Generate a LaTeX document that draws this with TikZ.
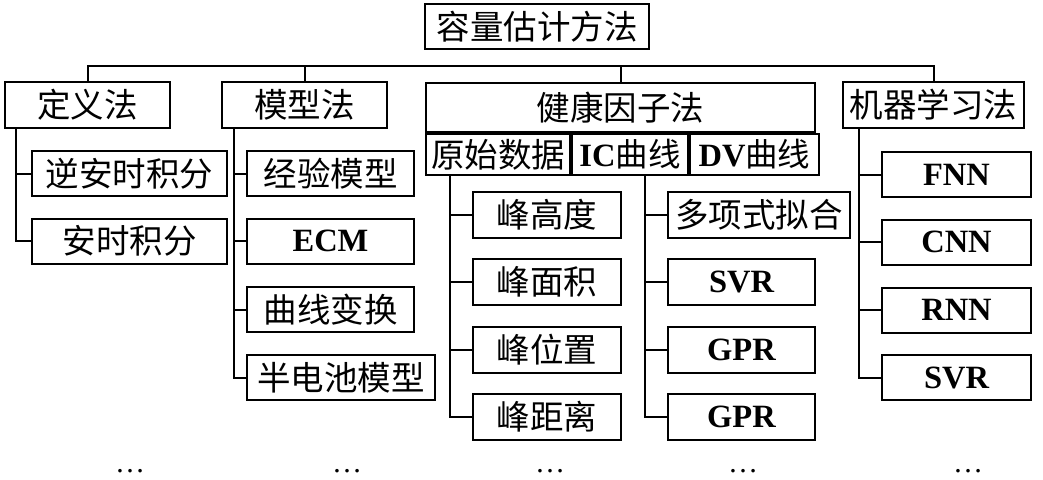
\documentclass[tikz,border=0pt]{standalone}
\usepackage{fontspec}
\setmainfont{Liberation Serif}
\newfontfamily\cjk{Noto Sans CJK SC}
\newcommand\zh[1]{{\cjk #1}}
\begin{document}
\begin{tikzpicture}[x=1pt,y=1pt,
  line width=2pt,
  box/.style={draw, line width=2pt, inner sep=0pt, minimum height=45pt, font=\fontsize{33.5}{36}\selectfont},
  lat/.style={font=\fontsize{32.5}{36}\selectfont\bfseries},
  conn/.style={line width=2pt}]
\useasboundingbox (0,0) rectangle (1043,-479);
% top
\node[box, minimum width=224pt, minimum height=45pt] (root) at (537,-26.5) {\zh{容量估计方法}};
% level 1
\node[box, minimum width=165pt, minimum height=46pt] (dy) at (87.5,-105) {\zh{定义法}};
\node[box, minimum width=165pt, minimum height=46pt] (mx) at (304.5,-105) {\zh{模型法}};
\node[box, minimum width=389pt, minimum height=49pt] (jk) at (620.5,-107.5) {\zh{健康因子法}};
\node[box, minimum width=144pt, minimum height=41pt, anchor=north west] (ys) at (jk.south west) {\zh{原始数据}};
\node[box, minimum width=116pt, minimum height=41pt, anchor=north west, lat] (ic) at (ys.north east) {IC\zh{\mdseries 曲线}};
\node[box, minimum width=129pt, minimum height=41pt, anchor=north west, lat] (dv) at (ic.north east) {DV\zh{\mdseries 曲线}};
\node[box, minimum width=181pt, minimum height=46pt] (ml) at (933.5,-105) {\zh{机器学习法}};
% bus
\draw[conn] (dy.north) -- ++(0,15) coordinate (bus) -| (ml.north);
\draw[conn] (mx.north) -- (mx.north |- bus);
\draw[conn] (jk.north) -- (jk.north |- bus);
% 定义法 children
\node[box, minimum width=195pt] (dy1) at (129.5,-173.5) {\zh{逆安时积分}};
\node[box, minimum width=195pt] (dy2) at (129.5,-241) {\zh{安时积分}};
\foreach \c in {dy1,dy2} \draw[conn] ([xshift=12pt]dy.south west) |- (\c.west);
% 模型法 children
\node[box, minimum width=167pt] (mx1) at (330.5,-173.5) {\zh{经验模型}};
\node[box, minimum width=167pt, lat] (mx2) at (330.5,-241) {ECM};
\node[box, minimum width=167pt] (mx3) at (330.5,-309.5) {\zh{曲线变换}};
\node[box, minimum width=188pt] (mx4) at (341,-377.5) {\zh{半电池模型}};
\foreach \c in {mx1,mx2,mx3,mx4} \draw[conn] ([xshift=13pt]mx.south west) |- (\c.west);
% 健康因子法 children left
\node[box, minimum width=148pt, minimum height=46pt] (a1) at (547,-214.5) {\zh{峰高度}};
\node[box, minimum width=148pt, minimum height=46pt] (a2) at (547,-281.5) {\zh{峰面积}};
\node[box, minimum width=148pt, minimum height=46pt] (a3) at (547,-350) {\zh{峰位置}};
\node[box, minimum width=148pt, minimum height=46pt] (a4) at (547,-417) {\zh{峰距离}};
\foreach \c in {a1,a2,a3,a4} \draw[conn] ([xshift=25pt]ys.south west) |- (\c.west);
% right
\node[box, minimum width=182pt, minimum height=46pt] (b1) at (759,-214.5) {\zh{多项式拟合}};
\node[box, minimum width=147pt, minimum height=46pt, lat] (b2) at (741.5,-281.5) {SVR};
\node[box, minimum width=147pt, minimum height=46pt, lat] (b3) at (741.5,-350) {GPR};
\node[box, minimum width=147pt, minimum height=46pt, lat] (b4) at (741.5,-417) {GPR};
\foreach \c in {b1,b2,b3,b4} \draw[conn] ([xshift=74pt]ic.south west) |- (\c.west);
% 机器学习法 children
\node[box, minimum width=149pt, lat] (m1) at (956.5,-174.5) {FNN};
\node[box, minimum width=149pt, lat] (m2) at (956.5,-242) {CNN};
\node[box, minimum width=149pt, lat] (m3) at (956.5,-310) {RNN};
\node[box, minimum width=149pt, lat] (m4) at (956.5,-377.5) {SVR};
\foreach \c in {m1,m2,m3,m4} \draw[conn] ([xshift=17pt]ml.south west) |- (\c.west);
% dots
\foreach \x/\n in {130/d1,347/d2,550/d3,743/d4,968/d5}
  \node[font=\fontsize{30}{30}\selectfont, inner sep=0pt] (\n) at (\x,-471) {…};
\end{tikzpicture}
\end{document}
